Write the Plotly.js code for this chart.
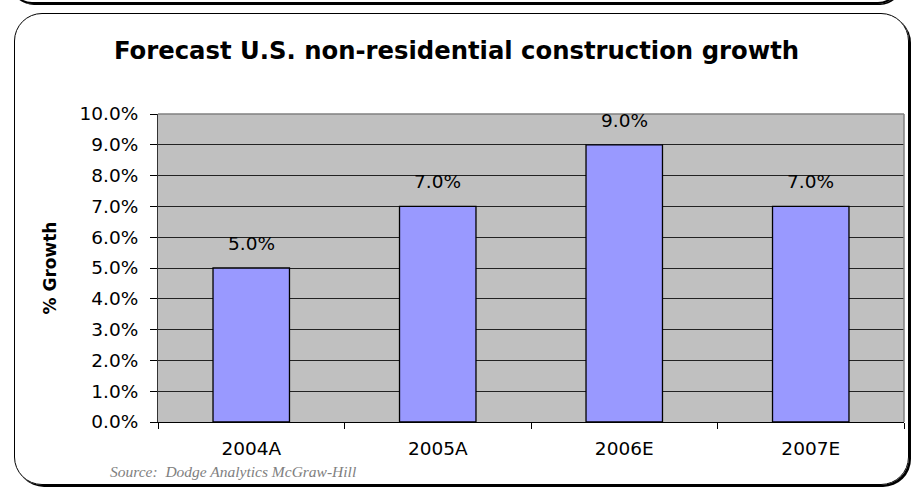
<!DOCTYPE html>
<html>
<head>
<meta charset="utf-8">
<script src="https://cdn.plot.ly/plotly-3.0.1.min.js"></script>
<style>
  html, body { margin: 0; padding: 0; background: #ffffff; }
  #wrap { position: relative; width: 913px; height: 490px; overflow: hidden; }
  #chart { position: absolute; left: 0; top: 0; width: 913px; height: 490px; }
  .frame { position: absolute; left: 14px; top: 13px; width: 893px; height: 470px;
           border: 1.5px solid #000; border-radius: 28px; box-shadow: 2px 2px 0 #000;
           pointer-events: none; }
  .topbox { position: absolute; left: 10px; top: -40px; width: 886px; height: 40px;
            border: 2px solid #000; border-radius: 22px; box-shadow: 2px 1px 0 #000;
            pointer-events: none; }
</style>
</head>
<body>
<div id="wrap">
  <div id="chart"></div>
  <div class="frame"></div>
  <div class="topbox"></div>
</div>
<script>
const categories = ["2004A", "2005A", "2006E", "2007E"];
const growth = [0.05, 0.07, 0.09, 0.07];
const yTickValues = [0, 0.01, 0.02, 0.03, 0.04, 0.05, 0.06, 0.07, 0.08, 0.09, 0.10];
const chartTitle = "Forecast U.S. non-residential construction growth";
const yTitle = "% Growth";
const sourceNote = "Source:  Dodge Analytics McGraw-Hill";

const W = 913, H = 490;
const L = 158, R = 904, T = 114, B = 422;
const SANS = "DejaVu Sans, Liberation Sans, Arial, sans-serif";

const annotations = categories.map((c, i) => ({
  x: c, y: growth[i], xref: "x", yref: "y",
  text: (growth[i] * 100).toFixed(1) + "%",
  showarrow: false, yanchor: "bottom", yshift: 12,
  font: { family: SANS, size: 18.5, color: "#000" }
}));
annotations.push({
  x: (108 - L) / (R - L), y: (B - 471) / (B - T), xref: "paper", yref: "paper",
  xanchor: "left", yanchor: "middle", showarrow: false,
  text: sourceNote.replace(/  /g, " &nbsp;"),
  font: { family: "Liberation Serif, Times New Roman, serif", size: 15.5, color: "#808080", style: "italic" }
});

const trace = {
  type: "bar",
  x: categories,
  y: growth,
  marker: { color: "#9999FF", line: { color: "#000000", width: 1.3 } },
  hoverinfo: "skip"
};

const layout = {
  width: W, height: H,
  margin: { l: L, r: W - R, t: T, b: H - B, pad: 0 },
  paper_bgcolor: "rgba(0,0,0,0)",
  plot_bgcolor: "#C0C0C0",
  showlegend: false,
  bargap: 0.59,
  font: { family: SANS, size: 18.5, color: "#000" },
  title: {
    text: "<b>" + chartTitle + "</b>",
    font: { family: SANS, size: 24.3, color: "#000" },
    x: 0.5, xref: "container", y: (H - 50) / H, yref: "container", yanchor: "middle"
  },
  xaxis: {
    type: "category",
    tickson: "boundaries",
    ticks: "outside", ticklen: 6, tickcolor: "#000", tickwidth: 1,
    showline: true, linecolor: "#000", linewidth: 1,
    showgrid: false, zeroline: false,
    ticklabelstandoff: 10,
    tickfont: { family: SANS, size: 18.5 }
  },
  yaxis: {
    range: [0, 0.10],
    tickvals: yTickValues,
    tickformat: ".1%",
    ticks: "outside", ticklen: 7, tickcolor: "#000", tickwidth: 1,
    showline: true, linecolor: "#333", linewidth: 1,
    showgrid: true, gridcolor: "#222", gridwidth: 1,
    zeroline: false,
    ticklabelstandoff: 8,
    tickfont: { family: SANS, size: 18.5 },
    title: {
      text: "<b>" + yTitle + "</b>",
      font: { family: SANS, size: 17, color: "#000" },
      standoff: 18
    }
  },
  shapes: [
    { type: "line", xref: "paper", yref: "paper", x0: 0, x1: 1, y0: 1, y1: 1,
      line: { color: "#808080", width: 1.5 }, layer: "above" },
    { type: "line", xref: "paper", yref: "paper", x0: 1, x1: 1, y0: 0, y1: 1,
      line: { color: "#808080", width: 1.5 }, layer: "above" }
  ],
  annotations: annotations
};

Plotly.newPlot("chart", [trace], layout, { displayModeBar: false, staticPlot: true });
</script>
</body>
</html>
